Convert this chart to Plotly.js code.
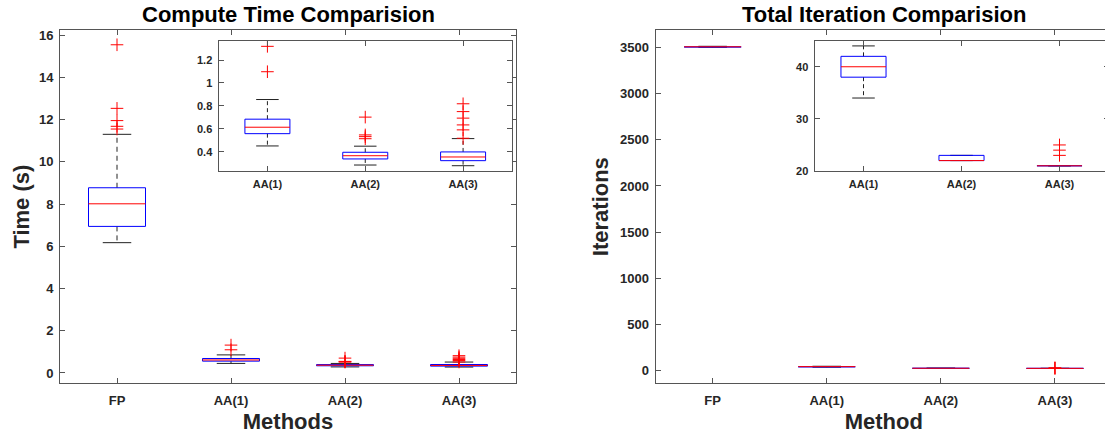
<!DOCTYPE html>
<html>
<head>
<meta charset="utf-8">
<script src="https://cdn.plot.ly/plotly-3.0.1.min.js"></script>
<style>
html,body{margin:0;padding:0;overflow:hidden;background:#fff;}
#chart{width:1115px;height:438px;}
</style>
</head>
<body>
<div id="chart"></div>
<script>
// ---------------- data ----------------
const methods = ['FP', 'AA(1)', 'AA(2)', 'AA(3)'];

// Compute time (s)
const timeLower   = [6.17, 0.452, 0.286, 0.280];
const timeQ1      = [6.94, 0.559, 0.339, 0.324];
const timeMedian  = [8.01, 0.615, 0.367, 0.356];
const timeQ3      = [8.77, 0.685, 0.397, 0.400];
const timeUpper   = [11.30, 0.856, 0.450, 0.516];
const timeOutliers = [
  [15.54, 12.53, 11.95, 11.68, 11.55],
  [1.319, 1.098],
  [0.703, 0.548, 0.533, 0.515],
  [0.819, 0.751, 0.694, 0.635, 0.592, 0.519]
];

// Total iterations
const iterLower   = [3505, 34, 22, 21];
const iterQ1      = [3508, 38, 22, 21];
const iterMedian  = [3510, 40, 22, 21];
const iterQ3      = [3512, 42, 23, 21];
const iterUpper   = [3515, 44, 23, 21];
const iterOutliers = [[], [], [], [25, 24, 23]];

// tick labels
const timeTicks = [0, 2, 4, 6, 8, 10, 12, 14, 16];
const timeInsetTicks = [0.4, 0.6, 0.8, 1, 1.2];
const timeInsetTickText = ['0.4', '0.6', '0.8', '1', '1.2'];
const iterTicks = [0, 500, 1000, 1500, 2000, 2500, 3000, 3500];
const iterInsetTicks = [20, 30, 40];

// ---------------- helpers ----------------
const W = 1115, H = 438;
const dx = px => px / W;
const dy = px => 1 - px / H;

function boxTraces(idx, lo, q1, med, q3, hi, outs, xa, ya, halfW, capHalf, dash) {
  const wx = [], wy = [], cx = [], cy = [], bx = [], by = [], mx = [], my = [], ox = [], oy = [];
  idx.forEach((k, i) => {
    const p = i + 1;
    wx.push(p, p, null, p, p, null);
    wy.push(q3[k], hi[k], null, q1[k], lo[k], null);
    cx.push(p - capHalf, p + capHalf, null, p - capHalf, p + capHalf, null);
    cy.push(hi[k], hi[k], null, lo[k], lo[k], null);
    bx.push(p - halfW, p + halfW, p + halfW, p - halfW, p - halfW, null);
    by.push(q1[k], q1[k], q3[k], q3[k], q1[k], null);
    mx.push(p - halfW, p + halfW, null);
    my.push(med[k], med[k], null);
    outs[k].forEach(v => { ox.push(p); oy.push(v); });
  });
  const base = {xaxis: xa, yaxis: ya, type: 'scatter', hoverinfo: 'skip', showlegend: false, cliponaxis: true};
  return [
    Object.assign({}, base, {x: wx, y: wy, mode: 'lines', line: {color: '#222', width: 1, dash: dash}}),
    Object.assign({}, base, {x: cx, y: cy, mode: 'lines', line: {color: '#222', width: 1}}),
    Object.assign({}, base, {x: bx, y: by, mode: 'lines', line: {color: '#0000ff', width: 1}}),
    Object.assign({}, base, {x: mx, y: my, mode: 'lines', line: {color: '#ff0000', width: 1}}),
    Object.assign({}, base, {x: ox, y: oy, mode: 'markers',
      marker: {symbol: 'cross-thin-open', size: 9, color: '#ff0000', line: {color: '#ff0000', width: 1}}})
  ];
}

const all = [0, 1, 2, 3];
const aa = [1, 2, 3];
const dashMain = '5px,4px';
const dashInset = '4px,3px';

const traces = [].concat(
  boxTraces(all, timeLower, timeQ1, timeMedian, timeQ3, timeUpper, timeOutliers, 'x', 'y', 0.25, 0.125, dashMain),
  boxTraces(aa, timeLower, timeQ1, timeMedian, timeQ3, timeUpper, timeOutliers, 'x2', 'y2', 0.23, 0.115, dashInset),
  boxTraces(all, iterLower, iterQ1, iterMedian, iterQ3, iterUpper, iterOutliers, 'x3', 'y3', 0.25, 0.125, dashMain),
  boxTraces(aa, iterLower, iterQ1, iterMedian, iterQ3, iterUpper, iterOutliers, 'x4', 'y4', 0.23, 0.115, dashInset)
);

const FONT = 'Liberation Sans, Arial, Helvetica, sans-serif';
const lineCol = '#555555';
const txtCol = '#262626';

function ax(extra, fontSize, standoff) {
  return Object.assign({
    showline: true, mirror: 'ticks', linecolor: lineCol, linewidth: 1,
    ticks: 'inside', ticklen: 5, tickcolor: lineCol, tickwidth: 1,
    ticklabelstandoff: standoff,
    showgrid: false, zeroline: false, fixedrange: true,
    tickfont: {family: FONT, size: fontSize, color: txtCol, weight: 'bold'}
  }, extra);
}

const mainY = [dy(383.3), dy(30)];
const insetY = [dy(171), dy(40.7)];
const titleFont = {family: FONT, size: 22, color: txtCol, weight: 'bold'};

const layout = {
  width: W, height: H,
  margin: {l: 0, r: 0, t: 0, b: 0},
  paper_bgcolor: '#ffffff', plot_bgcolor: '#ffffff',
  font: {family: FONT, color: txtCol},
  showlegend: false,
  xaxis: ax({domain: [dx(60), dx(516)], anchor: 'y', range: [0.5, 4.5],
    tickvals: [1, 2, 3, 4], ticktext: methods,
    title: {text: 'Methods', font: titleFont, standoff: 6}}, 13, 5),
  yaxis: ax({domain: mainY, anchor: 'x', range: [-0.49, 16.24],
    tickvals: timeTicks, ticktext: timeTicks.map(String),
    title: {text: 'Time (s)', font: titleFont, standoff: 3}}, 13, 3),
  xaxis2: ax({domain: [dx(218.5), dx(512)], anchor: 'y2', range: [0.5, 3.5],
    tickvals: [1, 2, 3], ticktext: aa.map(k => methods[k])}, 11, 3),
  yaxis2: ax({domain: insetY, anchor: 'x2', range: [0.234, 1.368],
    tickvals: timeInsetTicks, ticktext: timeInsetTickText}, 11, 3),
  xaxis3: ax({domain: [dx(655.6), dx(1112)], anchor: 'y3', range: [0.5, 4.5],
    tickvals: [1, 2, 3, 4], ticktext: methods,
    title: {text: 'Method', font: titleFont, standoff: 6}}, 13, 5),
  yaxis3: ax({domain: mainY, anchor: 'x3', range: [-141, 3692],
    tickvals: iterTicks, ticktext: iterTicks.map(String),
    title: {text: 'Iterations', font: titleFont, standoff: 5}}, 13, 3),
  xaxis4: ax({domain: [dx(814.5), dx(1108.5)], anchor: 'y4', range: [0.5, 3.5],
    tickvals: [1, 2, 3], ticktext: aa.map(k => methods[k])}, 11, 3),
  yaxis4: ax({domain: insetY, anchor: 'x4', range: [20, 45],
    tickvals: iterInsetTicks, ticktext: iterInsetTicks.map(String)}, 11, 3),
  annotations: [
    {text: 'Compute Time Comparision', xref: 'paper', yref: 'paper', x: dx(288), y: dy(14),
     xanchor: 'center', yanchor: 'middle', showarrow: false,
     font: {family: FONT, size: 22, color: '#000', weight: 'bold'}},
    {text: 'Total Iteration Comparision', xref: 'paper', yref: 'paper', x: dx(883.8), y: dy(14),
     xanchor: 'center', yanchor: 'middle', showarrow: false,
     font: {family: FONT, size: 22, color: '#000', weight: 'bold'}}
  ]
};

Plotly.newPlot('chart', traces, layout, {staticPlot: true, displayModeBar: false});
</script>
</body>
</html>
